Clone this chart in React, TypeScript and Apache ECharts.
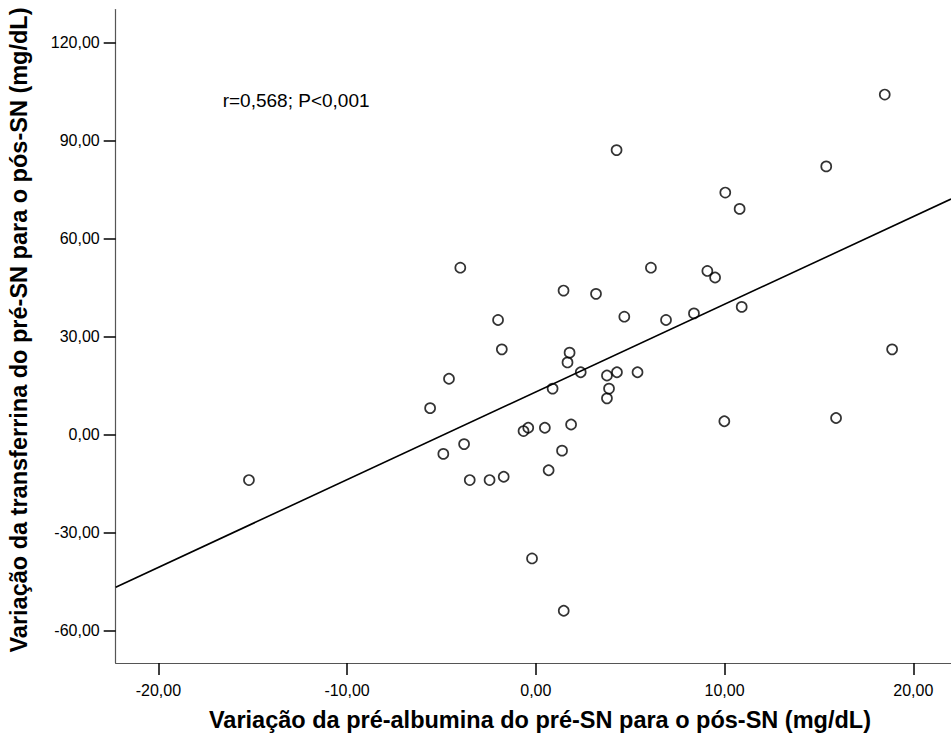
import React, { useEffect, useRef } from "react";
import * as echarts from "echarts";

// Variação da pré-albumina (x) vs Variação da transferrina (y)
const xValues: number[] = [
  -15.2, -5.6, -4.6, -4.0, -4.9, -3.8, -3.5, -2.45, -2.0, -1.8, -1.7, -0.65, -0.4, -0.2,
  0.48, 0.68, 0.89, 1.39, 1.47, 1.48, 1.68, 1.79, 1.87, 2.38, 3.19, 3.77, 3.88, 3.77,
  4.28, 4.3, 4.69, 5.39, 6.1, 6.9, 8.38, 9.09, 9.5, 9.99, 10.04, 10.8, 10.91, 15.39,
  15.91, 18.49, 18.88,
];
const yValues: number[] = [
  -14, 8, 17, 51, -6, -3, -14, -14, 35, 26, -13, 1, 2, -38,
  2, -11, 14, -5, 44, -54, 22, 25, 3, 19, 43, 18, 14, 11,
  87, 19, 36, 19, 51, 35, 37, 50, 48, 4, 74, 69, 39, 82,
  5, 104, 26,
];

const xTicks: number[] = [-20, -10, 0, 10, 20];
const yTicks: number[] = [-60, -30, 0, 30, 60, 90, 120];
const xRange: number[] = [-22.26, 22.0];
const yRange: number[] = [-70, 130];

// fitted regression line
const fitIntercept = 12.95;
const fitSlope = 2.684;

const annotation = "r=0,568; P<0,001";
const xTitle = "Variação da pré-albumina do pré-SN para o pós-SN (mg/dL)";
const yTitle = "Variação da transferrina do pré-SN para o pós-SN (mg/dL)";

const fmt = (v: number) => v.toFixed(2).replace(".", ",");
const FONT = "'Liberation Sans', Arial, Helvetica, sans-serif";

export default function App() {
  const ref = useRef<HTMLDivElement>(null);
  useEffect(() => {
    if (!ref.current) return;
    const chart = echarts.init(ref.current, undefined, { renderer: "svg" });
    const points = xValues.map((x, i) => [x, yValues[i]]);
    const fitLine = xRange.map((x) => [x, fitIntercept + fitSlope * x]);
    chart.setOption({
      animation: false,
      backgroundColor: "#ffffff",
      grid: { left: 115.7, right: 0, top: 9.6, bottom: 77, containLabel: false },
      xAxis: {
        type: "value",
        min: xRange[0],
        max: xRange[1],
        splitLine: { show: false },
        axisLine: { show: true, onZero: false, lineStyle: { color: "#555", width: 1.2 } },
        axisTick: {
          show: true,
          length: 12,
          customValues: xTicks,
          lineStyle: { color: "#000", width: 1.5 },
        },
        axisLabel: {
          customValues: xTicks,
          formatter: (v: number) => fmt(v),
          margin: 19,
          fontSize: 16,
          color: "#000",
          fontFamily: FONT,
        },
      },
      yAxis: {
        type: "value",
        min: yRange[0],
        max: yRange[1],
        splitLine: { show: false },
        axisLine: { show: true, onZero: false, lineStyle: { color: "#555", width: 1.2 } },
        axisTick: {
          show: true,
          length: 12,
          customValues: yTicks,
          lineStyle: { color: "#000", width: 1.5 },
        },
        axisLabel: {
          customValues: yTicks,
          formatter: (v: number) => fmt(v),
          margin: 16,
          fontSize: 16,
          color: "#000",
          fontFamily: FONT,
        },
      },
      graphic: [
        {
          type: "text",
          left: 222.7,
          top: 91,
          style: { text: annotation, font: `19px ${FONT}`, fill: "#000" },
        },
        {
          type: "text",
          x: 540,
          y: 720,
          style: {
            text: xTitle,
            font: `bold 23.5px ${FONT}`,
            fill: "#000",
            align: "center",
            verticalAlign: "middle",
          },
        },
        {
          type: "text",
          x: 19,
          y: 330,
          rotation: Math.PI / 2,
          style: {
            text: yTitle,
            font: `bold 23.5px ${FONT}`,
            fill: "#000",
            align: "center",
            verticalAlign: "middle",
          },
        },
      ],
      series: [
        {
          type: "line",
          data: fitLine,
          symbol: "none",
          silent: true,
          lineStyle: { color: "#000", width: 1.6 },
          z: 1,
        },
        {
          type: "scatter",
          data: points,
          symbol: "circle",
          symbolSize: 10,
          itemStyle: { color: "rgba(0,0,0,0)", borderColor: "#000", borderWidth: 1.7 },
          z: 2,
        },
      ],
    });
    return () => chart.dispose();
  }, []);
  return (
    <div
      ref={ref}
      style={{ position: "fixed", left: 0, top: 0, width: 951, height: 740, background: "#fff" }}
    />
  );
}
